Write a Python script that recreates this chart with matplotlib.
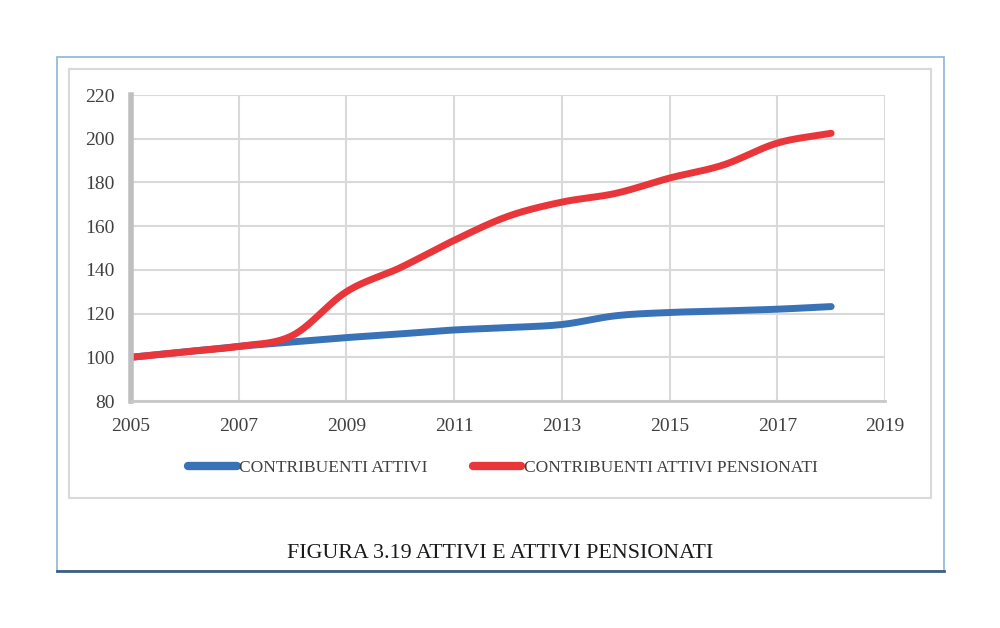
import matplotlib
matplotlib.use("Agg")
import matplotlib.pyplot as plt
import numpy as np
from matplotlib.patches import Rectangle
from matplotlib.lines import Line2D

# Dati
anni = [2005, 2006, 2007, 2008, 2009, 2010, 2011, 2012, 2013, 2014, 2015, 2016, 2017, 2018]
attivi = [100, 102.5, 105, 107, 109, 110.7, 112.5, 113.6, 115, 119, 120.5, 121.2, 122, 123.2]
pensionati = [100, 102.5, 105, 110, 130, 141, 153.5, 164.5, 171, 175, 182, 188, 198, 202.5]

x_ticks = [2005, 2007, 2009, 2011, 2013, 2015, 2017, 2019]
y_ticks = [80, 100, 120, 140, 160, 180, 200, 220]

nomi = ["CONTRIBUENTI ATTIVI", "CONTRIBUENTI ATTIVI PENSIONATI"]
colori = ["#3a72b8", "#e8363a"]
titolo = "FIGURA 3.19 ATTIVI E ATTIVI PENSIONATI"


def liscia(x, y, n=30):
    # curva liscia tipo Excel (Catmull-Rom)
    x = np.asarray(x, float)
    y = np.asarray(y, float)
    px = np.concatenate([[2 * x[0] - x[1]], x, [2 * x[-1] - x[-2]]])
    py = np.concatenate([[2 * y[0] - y[1]], y, [2 * y[-1] - y[-2]]])
    xs, ys = [], []
    t = np.linspace(0, 1, n)
    for i in range(1, len(px) - 2):
        for arr, out in ((px, xs), (py, ys)):
            p0, p1, p2, p3 = arr[i - 1], arr[i], arr[i + 1], arr[i + 2]
            out.extend(0.5 * ((2 * p1) + (-p0 + p2) * t
                              + (2 * p0 - 5 * p1 + 4 * p2 - p3) * t ** 2
                              + (-p0 + 3 * p1 - 3 * p2 + p3) * t ** 3))
    return np.array(xs), np.array(ys)


plt.rcParams['font.family'] = ['Liberation Serif', 'DejaVu Serif']

fig = plt.figure(figsize=(10, 6.28), dpi=100)

# cornici
fig.patches.append(Rectangle((0.057, 1 - 0.571 / 0.628), 0.887, 0.514 / 0.628,
                             transform=fig.transFigure, fill=False,
                             edgecolor="#8fb3d9", linewidth=1.2))
fig.lines.append(Line2D([0.057, 0.944], [1 - 0.571 / 0.628] * 2,
                        transform=fig.transFigure, color="#3f5f80", linewidth=2))
fig.patches.append(Rectangle((0.069, 1 - 0.498 / 0.628), 0.862, 0.429 / 0.628,
                             transform=fig.transFigure, fill=False,
                             edgecolor="#d9d9d9", linewidth=1.5))

ax = fig.add_axes([0.131, 1 - 401 / 628, 0.754, 306 / 628])

for serie, col, nome in zip([attivi, pensionati], colori, nomi):
    xs, ys = liscia(anni, serie)
    ax.plot(xs, ys, color=col, linewidth=5, solid_capstyle='round', label=nome)

ax.set_xlim(2005, 2019)
ax.set_ylim(80, 220)
ax.set_xticks(x_ticks)
ax.set_yticks(y_ticks)
ax.grid(True, color="#d9d9d9", linewidth=1.5)
ax.set_axisbelow(True)
ax.tick_params(length=0, labelsize=14, colors="#404040")
ax.tick_params(axis="y", pad=12)
ax.tick_params(axis="x", pad=12.5)
for s in ["top", "right"]:
    ax.spines[s].set_visible(False)
ax.spines["left"].set_color("#bfbfbf")
ax.spines["left"].set_linewidth(4)
ax.spines["bottom"].set_color("#c8c8c8")
ax.spines["bottom"].set_linewidth(2)

leg = fig.legend(loc="center", bbox_to_anchor=(0.503, 1 - 468 / 628), ncol=2,
                 frameon=False, fontsize=12.5, handlelength=2.8, handletextpad=0.15,
                 columnspacing=2.6)
for t in leg.get_texts():
    t.set_color("#404040")
for h in leg.legend_handles:
    h.set_linewidth(6)

fig.text(0.5, 1 - 553 / 628, titolo, ha="center", va="center", fontsize=15.8,
         color="#1a1a1a")

fig.savefig("out.png", dpi=100)
